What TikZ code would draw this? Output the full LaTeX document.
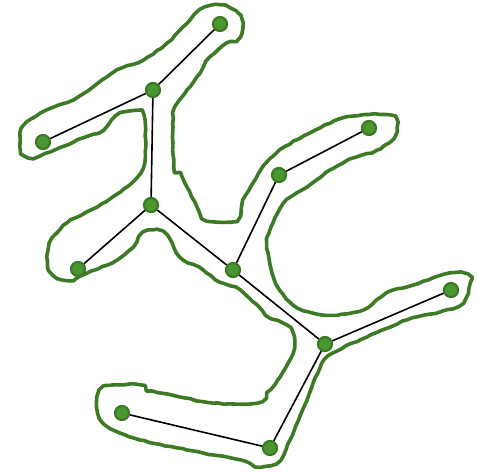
\documentclass[tikz,border=0pt]{standalone}
\usetikzlibrary{decorations.pathmorphing}
\definecolor{leafgreen}{HTML}{4A9630}
\definecolor{rimgreen}{HTML}{3A7A23}
\definecolor{hullgreen}{HTML}{3D7A26}
\tikzset{
  spot/.style={
    circle,
    draw=rimgreen,
    fill=leafgreen,
    line width=2.2pt,
    minimum size=14pt,
    inner sep=0pt
  },
  link/.style={draw,line width=1.6pt},
  hull/.style={
    draw=hullgreen,
    line width=3.6pt,
    line join=round,
    decorate,
    decoration={random steps,segment length=5.5pt,amplitude=0.6pt}
  }
}

\begin{document}
\begin{tikzpicture}[x=1pt,y=-1pt]
  \useasboundingbox (0,0) rectangle (477,472);
  % hand drawn outline round the tree
  \draw[hull] plot[smooth cycle,tension=0.55] coordinates {
    (220,5) (237,12) (242,23) (240,37) (227,43) (210,57) (200,73) (187,90)
    (175,107) (173,127) (174,167) (180,173) (187,187) (197,207) (203,218)
    (220,222) (237,220) (243,200) (253,183) (263,167) (280,150) (310,133)
    (347,117) (390,115) (397,127) (393,138) (377,150) (353,158) (330,170)
    (307,187) (287,200) (273,223) (267,243) (272,273) (280,290) (293,305)
    (313,313) (337,315) (363,310) (387,293) (413,285) (450,273) (468,275)
    (470,283) (463,303) (440,312) (407,320) (367,337) (333,353) (320,368)
    (307,400) (290,440) (280,460) (260,467) (240,460) (187,450) (140,440)
    (120,433) (103,423) (97,407) (100,390) (113,385) (140,385) (147,390)
    (180,397) (213,403) (257,403) (267,393) (280,377) (293,353) (293,333)
    (283,323) (270,318) (257,305) (240,290) (220,282) (203,270) (180,257)
    (167,235) (153,230) (143,233) (133,247) (117,260) (83,275) (73,280)
    (57,278) (48,267) (50,243) (67,223) (97,207) (127,187) (140,173)
    (145,157) (145,120) (140,112) (120,113) (103,130) (83,138) (50,152)
    (33,158) (22,152) (20,133) (27,123) (47,110) (73,100) (93,87)
    (117,70) (143,60) (167,43) (183,27) (200,10)};

  \node[spot] (top)   at (220,24)  {};
  \node[spot] (fork)  at (153,90)  {};
  \node[spot] (west)  at (43,142)  {};
  \node[spot] (mid)   at (151,205) {};
  \node[spot] (low)   at (78,269)  {};
  \node[spot] (hub)   at (233,270) {};
  \node[spot] (up)    at (279,175) {};
  \node[spot] (ne)    at (369,128) {};
  \node[spot] (joint) at (325,344) {};
  \node[spot] (east)  at (451,290) {};
  \node[spot] (south) at (270,448) {};
  \node[spot] (sw)    at (122,413) {};

  \draw[link] (top) -- (fork);
  \draw[link] (fork) -- (west);
  \draw[link] (fork) -- (mid);
  \draw[link] (mid) -- (low);
  \draw[link] (mid) -- (hub);
  \draw[link] (hub) -- (up);
  \draw[link] (up) -- (ne);
  \draw[link] (hub) -- (joint);
  \draw[link] (joint) -- (east);
  \draw[link] (joint) -- (south);
  \draw[link] (south) -- (sw);
\end{tikzpicture}
\end{document}
